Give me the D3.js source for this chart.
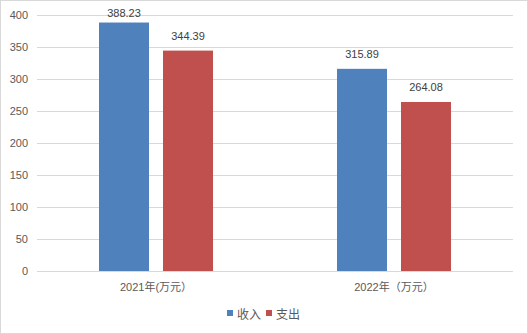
<!DOCTYPE html>
<html><head><meta charset="utf-8">
<script src="https://cdn.jsdelivr.net/npm/d3@7"></script>
<style>
body{margin:0;background:#fff;}
svg{display:block;font-family:"Liberation Sans","Noto Sans CJK SC",sans-serif;}
</style></head>
<body><svg id="c" width="528" height="334"></svg>
<script>
const categories = ["2021年(万元）", "2022年（万元）"];
const seriesNames = ["收入", "支出"];
const income = [388.23, 315.89];
const expense = [344.39, 264.08];
const yTicks = [0, 50, 100, 150, 200, 250, 300, 350, 400];
const colors = ["#4f81bd", "#c0504d"];

const svg = d3.select("#c");
const W = 528, H = 334;
const m = {l: 37, r: 15, t: 15, b: 63};
const x0 = d3.scaleBand().domain(categories).range([m.l, W - m.r]);
const y = d3.scaleLinear().domain([0, 400]).range([H - m.b, m.t]);

svg.append("rect").attr("x",0.5).attr("y",0.5).attr("width",W-1).attr("height",H-1)
  .attr("fill","#fff").attr("stroke","#d9d9d9");

// gridlines
svg.append("g").selectAll("line").data(yTicks).join("line")
  .attr("x1", m.l).attr("x2", W - m.r)
  .attr("y1", d => Math.round(y(d)) + 0.5).attr("y2", d => Math.round(y(d)) + 0.5)
  .attr("stroke", "#d9d9d9").attr("stroke-width", 1);

// y axis labels
const ya = svg.append("g").attr("transform", `translate(${m.l},0)`)
  .call(d3.axisLeft(y).tickValues(yTicks).tickSize(0).tickPadding(9));
ya.select(".domain").remove();
ya.selectAll("text").attr("fill", "#595959").style("font-size", "11px")
  .style("font-family", '"Liberation Sans","Noto Sans CJK SC",sans-serif');

// bars
const barW = 50, gap = 14;
const data = categories.map((c, i) => ({c, vals: [income[i], expense[i]]}));
const g = svg.append("g");
data.forEach(d => {
  const cx = x0(d.c) + x0.bandwidth() / 2;
  d.vals.forEach((v, j) => {
    const bx = j === 0 ? cx - gap / 2 - barW : cx + gap / 2;
    g.append("rect").attr("x", bx).attr("y", y(v)).attr("width", barW)
      .attr("height", y(0) - y(v)).attr("fill", colors[j]);
    g.append("text").attr("x", bx + barW / 2).attr("y", Math.max(17, y(v) - 11))
      .attr("text-anchor", "middle").attr("fill", "#404040").style("font-size", "11px")
      .text(v.toFixed(2));
  });
});

// x axis line
svg.append("line").attr("x1", m.l).attr("x2", W - m.r)
  .attr("y1", Math.round(y(0)) + 0.5).attr("y2", Math.round(y(0)) + 0.5)
  .attr("stroke", "#d9d9d9");

// category labels
svg.append("g").selectAll("text").data(categories).join("text")
  .attr("x", d => x0(d) + x0.bandwidth() / 2).attr("y", y(0) + 20)
  .attr("text-anchor", "middle").attr("fill", "#595959").style("font-size", "11px")
  .text(d => d);

// legend
const lg = svg.append("g");
const lx = [227, 266];
seriesNames.forEach((s, i) => {
  lg.append("rect").attr("x", lx[i]).attr("y", 310).attr("width", 6).attr("height", 6).attr("fill", colors[i]);
  lg.append("text").attr("x", lx[i] + 10).attr("y", 319).attr("fill", "#595959")
    .style("font-size", "12px").text(s);
});
</script></body></html>
